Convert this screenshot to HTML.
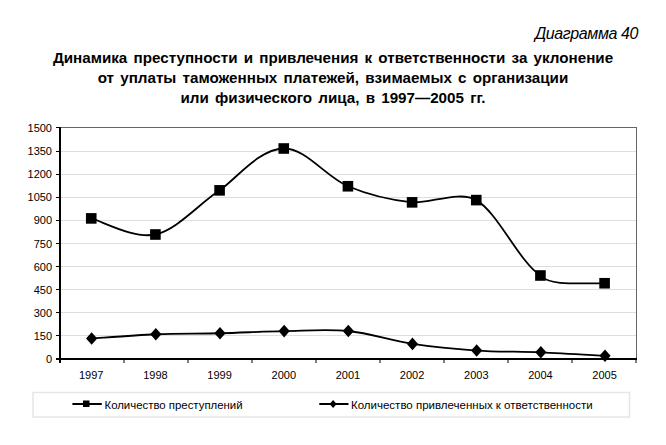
<!DOCTYPE html>
<html><head><meta charset="utf-8"><style>
html,body{margin:0;padding:0;background:#fff;}
body{width:666px;height:445px;position:relative;overflow:hidden;font-family:"Liberation Sans",sans-serif;color:#000;}
.cap{position:absolute;right:28px;top:25px;font-size:16px;letter-spacing:-0.4px;font-style:italic;white-space:nowrap;}
.tl{position:absolute;left:0;width:666px;text-align:center;font-size:15.5px;font-weight:bold;line-height:20px;word-spacing:2px;white-space:nowrap;transform:scaleX(0.98);transform-origin:333px 50%;}
svg{position:absolute;left:0;top:0;}
svg text{font-family:"Liberation Sans",sans-serif;font-size:11px;fill:#000;}
</style></head><body>
<div class="cap">Диаграмма 40</div>
<div class="tl" style="top:48px">Динамика преступности и привлечения к ответственности за уклонение</div>
<div class="tl" style="top:68px">от уплаты таможенных платежей, взимаемых с организации</div>
<div class="tl" style="top:88px">или физического лица, в 1997—2005 гг.</div>
<svg width="666" height="445" viewBox="0 0 666 445">
<rect x="61" y="335" width="575" height="1" fill="#dedede"/>
<rect x="61" y="312" width="575" height="1" fill="#dedede"/>
<rect x="61" y="289" width="575" height="1" fill="#dedede"/>
<rect x="61" y="266" width="575" height="1" fill="#dedede"/>
<rect x="61" y="243" width="575" height="1" fill="#dedede"/>
<rect x="61" y="220" width="575" height="1" fill="#dedede"/>
<rect x="61" y="197" width="575" height="1" fill="#dedede"/>
<rect x="61" y="174" width="575" height="1" fill="#dedede"/>
<rect x="61" y="151" width="575" height="1" fill="#dedede"/>

<rect x="61" y="127" width="576" height="1" fill="#666"/>
<rect x="636" y="127" width="1" height="232" fill="#666"/>
<rect x="59" y="127" width="2" height="236" fill="#000"/>
<rect x="56" y="358" width="581" height="2" fill="#000"/>
<rect x="59.0" y="360" width="2" height="3" fill="#000"/>
<rect x="123.5" y="360" width="1" height="3" fill="#000"/>
<rect x="187.5" y="360" width="1" height="3" fill="#000"/>
<rect x="251.5" y="360" width="1" height="3" fill="#000"/>
<rect x="315.5" y="360" width="1" height="3" fill="#000"/>
<rect x="379.5" y="360" width="1" height="3" fill="#000"/>
<rect x="443.5" y="360" width="1" height="3" fill="#000"/>
<rect x="507.5" y="360" width="1" height="3" fill="#000"/>
<rect x="571.5" y="360" width="1" height="3" fill="#000"/>
<rect x="635.5" y="360" width="1" height="3" fill="#000"/>

<text x="52" y="363.0" text-anchor="end">0</text>
<rect x="56" y="358" width="4" height="1" fill="#000"/>
<text x="52" y="339.9" text-anchor="end">150</text>
<rect x="56" y="335" width="4" height="1" fill="#000"/>
<text x="52" y="316.8" text-anchor="end">300</text>
<rect x="56" y="312" width="4" height="1" fill="#000"/>
<text x="52" y="293.7" text-anchor="end">450</text>
<rect x="56" y="289" width="4" height="1" fill="#000"/>
<text x="52" y="270.6" text-anchor="end">600</text>
<rect x="56" y="266" width="4" height="1" fill="#000"/>
<text x="52" y="247.5" text-anchor="end">750</text>
<rect x="56" y="243" width="4" height="1" fill="#000"/>
<text x="52" y="224.4" text-anchor="end">900</text>
<rect x="56" y="220" width="4" height="1" fill="#000"/>
<text x="52" y="201.3" text-anchor="end">1050</text>
<rect x="56" y="197" width="4" height="1" fill="#000"/>
<text x="52" y="178.2" text-anchor="end">1200</text>
<rect x="56" y="174" width="4" height="1" fill="#000"/>
<text x="52" y="155.1" text-anchor="end">1350</text>
<rect x="56" y="151" width="4" height="1" fill="#000"/>
<text x="52" y="132.0" text-anchor="end">1500</text>
<rect x="56" y="127" width="4" height="1" fill="#000"/>

<text x="91.2" y="378.5" text-anchor="middle">1997</text>
<text x="155.4" y="378.5" text-anchor="middle">1998</text>
<text x="219.6" y="378.5" text-anchor="middle">1999</text>
<text x="283.8" y="378.5" text-anchor="middle">2000</text>
<text x="347.9" y="378.5" text-anchor="middle">2001</text>
<text x="412.1" y="378.5" text-anchor="middle">2002</text>
<text x="476.3" y="378.5" text-anchor="middle">2003</text>
<text x="540.4" y="378.5" text-anchor="middle">2004</text>
<text x="604.6" y="378.5" text-anchor="middle">2005</text>

<path d="M91.24,218.40 C101.94,221.08 134.02,239.18 155.41,234.50 C176.80,229.82 198.19,204.68 219.58,190.35 C236.00,179.30 258.10,149.30 283.75,148.50 C305.14,147.82 326.53,177.28 347.92,186.25 C369.31,195.22 390.70,200.04 412.09,202.35 C428.45,204.06 459.34,190.17 476.26,200.10 C497.65,212.29 519.04,261.64 540.43,275.50 C549.00,284.60 568.00,283.70 604.60,283.25" fill="none" stroke="#000" stroke-width="1.8"/>
<path d="M91.64,338.55 C102.34,337.83 134.42,335.13 155.81,334.25 C177.20,333.37 198.59,333.77 219.98,333.25 C241.37,332.73 262.76,331.48 284.15,331.10 C305.54,330.73 326.93,328.87 348.32,331.00 C369.71,333.13 391.10,340.64 412.49,343.90 C433.88,347.16 455.27,349.15 476.66,350.55 C498.05,351.95 519.44,351.43 540.83,352.30 C562.22,353.18 594.31,355.22 605.00,355.80" fill="none" stroke="#000" stroke-width="1.8"/>
<rect x="85.94" y="213.10" width="10.6" height="10.6" fill="#000"/>
<rect x="150.11" y="229.20" width="10.6" height="10.6" fill="#000"/>
<rect x="214.28" y="185.05" width="10.6" height="10.6" fill="#000"/>
<rect x="278.45" y="143.20" width="10.6" height="10.6" fill="#000"/>
<rect x="342.62" y="180.95" width="10.6" height="10.6" fill="#000"/>
<rect x="406.79" y="197.05" width="10.6" height="10.6" fill="#000"/>
<rect x="470.96" y="194.80" width="10.6" height="10.6" fill="#000"/>
<rect x="535.13" y="270.20" width="10.6" height="10.6" fill="#000"/>
<rect x="599.30" y="277.95" width="10.6" height="10.6" fill="#000"/>
<path d="M91.64,332.25 L97.24,338.55 L91.64,344.85 L86.04,338.55 Z" fill="#000"/>
<path d="M155.81,327.95 L161.41,334.25 L155.81,340.55 L150.21,334.25 Z" fill="#000"/>
<path d="M219.98,326.95 L225.58,333.25 L219.98,339.55 L214.38,333.25 Z" fill="#000"/>
<path d="M284.15,324.80 L289.75,331.10 L284.15,337.40 L278.55,331.10 Z" fill="#000"/>
<path d="M348.32,324.70 L353.92,331.00 L348.32,337.30 L342.72,331.00 Z" fill="#000"/>
<path d="M412.49,337.60 L418.09,343.90 L412.49,350.20 L406.89,343.90 Z" fill="#000"/>
<path d="M476.66,344.25 L482.26,350.55 L476.66,356.85 L471.06,350.55 Z" fill="#000"/>
<path d="M540.83,346.00 L546.43,352.30 L540.83,358.60 L535.23,352.30 Z" fill="#000"/>
<path d="M605.00,349.50 L610.60,355.80 L605.00,362.10 L599.40,355.80 Z" fill="#000"/>

<rect x="33" y="392.5" width="596.5" height="24.5" fill="none" stroke="#e6e6e6" stroke-width="1.5"/>
<rect x="72.4" y="403" width="29.4" height="2" fill="#000"/>
<rect x="83" y="400.5" width="6.5" height="6.5" fill="#000"/>
<rect x="319.3" y="403" width="29.2" height="2" fill="#000"/>
<path d="M333.1,400 L336.6,404 L333.1,408 L329.6,404 Z" fill="#000"/>
<text x="104.5" y="408.5" style="font-size:11.4px">Количество преступлений</text>
<text x="351" y="408.5" style="font-size:11.5px">Количество привлеченных к ответственности</text>
</svg>
</body></html>
